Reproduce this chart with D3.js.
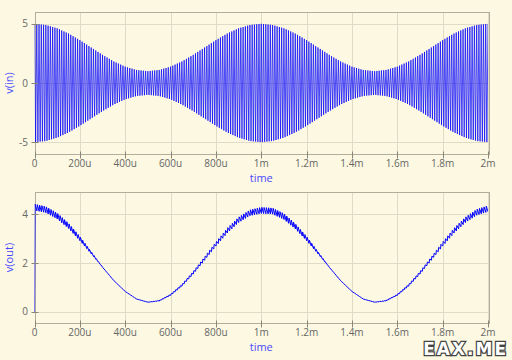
<!DOCTYPE html>
<html>
<head>
<meta charset="utf-8">
<script src="https://cdn.jsdelivr.net/npm/d3@7"></script>
<style>
body{margin:0;background:#fdf8e2;}
svg{display:block;font-family:"Open Sans",sans-serif;}
</style>
</head>
<body>
<svg id="chart" width="512" height="360"></svg>
<script>
const timeUs = [0,50,100,150,200,250,300,350,400,450,500,550,600,650,700,750,800,850,900,950,
                1000,1050,1100,1150,1200,1250,1300,1350,1400,1450,1500,1550,1600,1650,1700,1750,1800,1850,1900,1950,2000];
// v(in): peak amplitude of the carrier
const vInEnvelope = [5.0,4.9,4.62,4.18,3.62,3.0,2.38,1.82,1.38,1.1,1.0,1.1,1.38,1.82,2.38,3.0,3.62,4.18,4.62,4.9,
                     5.0,4.9,4.62,4.18,3.62,3.0,2.38,1.82,1.38,1.1,1.0,1.1,1.38,1.82,2.38,3.0,3.62,4.18,4.62,4.9,5.0];
// v(out): mean level and peak-to-peak ripple
const vOutLevel = [4.28,4.18,3.92,3.52,3.0,2.42,1.83,1.28,0.84,0.53,0.4,0.46,0.7,1.09,1.6,2.18,2.77,3.32,3.76,4.05,
                   4.15,4.12,3.9,3.5,3.0,2.42,1.83,1.28,0.84,0.53,0.4,0.46,0.7,1.09,1.6,2.18,2.77,3.32,3.76,4.07,4.22];
const vOutRipple = [0.26,0.25,0.24,0.21,0.17,0.09,0,0,0,0,0,0.03,0.05,0.08,0.11,0.14,0.17,0.2,0.22,0.24,
                    0.25,0.25,0.24,0.21,0.17,0.09,0,0,0,0,0,0.03,0.05,0.08,0.11,0.14,0.17,0.2,0.22,0.24,0.25];
const carrierUs = 10;

const xTicks = [0,200,400,600,800,1000,1200,1400,1600,1800,2000];
const xTickLabels = ["0","200u","400u","600u","800u","1m","1.2m","1.4m","1.6m","1.8m","2m"];
const vInTicks = [-5,0,5];
const vOutTicks = [0,2,4];

const svg = d3.select('#chart');
const x = d3.scaleLinear().domain([0,2000]).range([34.5,488]);
const px = v => Math.round(v) + 0.5;

const envScale = d3.scaleLinear().domain(timeUs).range(vInEnvelope);
const levelScale = d3.scaleLinear().domain(timeUs).range(vOutLevel);
const rippleScale = d3.scaleLinear().domain(timeUs).range(vOutRipple);

// carrier drawn as a zig-zag between the envelope peaks
let inPoints = [];
for (let t = 0, k = 0; t <= 2000; t += carrierUs/2, k++) {
    inPoints.push([t, (k % 2 ? -1 : 1) * envScale(t)]);
}

// detector output: quick charge at each peak, slow discharge
let outPoints = [[0,0]];
for (let t = carrierUs/4; t < 2000; t += carrierUs) {
    let l = levelScale(t), r = rippleScale(t);
    outPoints.push([t, l + r/2]);
    let t2 = Math.min(t + carrierUs*0.8, 2000);
    outPoints.push([t2, levelScale(t2) - rippleScale(t2)/2]);
}

function drawPanel(id, top, bottom, yDomain, yTicks, yLabel, points, lineWidth){
    let y = d3.scaleLinear().domain(yDomain).range([bottom, top]);
    let g = svg.append('g');

    // grid
    g.selectAll('.vgrid').data(xTicks).enter().append('line')
        .attr('x1', d => px(x(d))).attr('x2', d => px(x(d)))
        .attr('y1', top).attr('y2', bottom)
        .attr('stroke', '#e0dbc6').attr('stroke-width', 1);
    g.selectAll('.hgrid').data(yTicks).enter().append('line')
        .attr('x1', x.range()[0]).attr('x2', x.range()[1])
        .attr('y1', d => px(y(d))).attr('y2', d => px(y(d)))
        .attr('stroke', '#e0dbc6').attr('stroke-width', 1);

    // frame
    g.append('rect')
        .attr('x', px(x.range()[0])).attr('y', px(top))
        .attr('width', Math.round(x.range()[1] - x.range()[0]))
        .attr('height', Math.round(bottom - top))
        .attr('fill', 'none').attr('stroke', '#b3ad9c');

    // curve
    g.append('clipPath').attr('id', id)
        .append('rect').attr('x', x.range()[0]).attr('y', top)
        .attr('width', x.range()[1] - x.range()[0]).attr('height', bottom - top);
    g.append('path')
        .datum(points)
        .attr('clip-path', 'url(#' + id + ')')
        .attr('fill', 'none')
        .attr('stroke', '#0000ff')
        .attr('stroke-width', lineWidth)
        .attr('d', d3.line().x(d => x(d[0])).y(d => y(d[1])));

    // ticks
    g.selectAll('.xt').data(xTicks).enter().append('line')
        .attr('x1', d => px(x(d))).attr('x2', d => px(x(d)))
        .attr('y1', px(bottom) - 3).attr('y2', px(bottom) + 4)
        .attr('stroke', '#8a8576');
    g.selectAll('.yt').data(yTicks).enter().append('line')
        .attr('x1', px(x.range()[0]) - 4).attr('x2', px(x.range()[0]) + 3)
        .attr('y1', d => px(y(d))).attr('y2', d => px(y(d)))
        .attr('stroke', '#8a8576');

    g.selectAll('.xl').data(xTicks).enter().append('text')
        .attr('x', d => x(d)).attr('y', bottom + 13)
        .attr('text-anchor', 'middle')
        .attr('font-size', '10px').attr('fill', '#666')
        .text((d, i) => xTickLabels[i]);
    g.selectAll('.yl').data(yTicks).enter().append('text')
        .attr('x', 28).attr('y', d => y(d)).attr('dy', '0.35em')
        .attr('text-anchor', 'end')
        .attr('font-size', '10px').attr('fill', '#666')
        .text(d => d);

    // axis titles
    g.append('text')
        .attr('transform', 'translate(13,' + ((top + bottom)/2) + ') rotate(-90)')
        .attr('text-anchor', 'middle')
        .attr('font-size', '11px').attr('fill', '#4848ff')
        .text(yLabel);
    g.append('text')
        .attr('x', (x.range()[0] + x.range()[1])/2).attr('y', bottom + 28)
        .attr('text-anchor', 'middle')
        .attr('font-size', '11px').attr('fill', '#4848ff')
        .text('time');
}

drawPanel('clipIn', 12, 154, [-6, 6], vInTicks, 'v(in)', inPoints, 0.7);
drawPanel('clipOut', 192, 323, [-0.45, 4.9], vOutTicks, 'v(out)', outPoints, 1);

// watermark
svg.append('text')
    .attr('x', 508).attr('y', 355)
    .attr('text-anchor', 'end')
    .attr('font-family', '"DejaVu Sans", sans-serif')
    .attr('font-weight', 'bold')
    .attr('font-size', '17px')
    .attr('letter-spacing', '2px')
    .attr('fill', '#ffffff')
    .attr('stroke', '#444')
    .attr('stroke-width', 2.5)
    .attr('paint-order', 'stroke')
    .text('EAX.ME');
</script>
</body>
</html>
